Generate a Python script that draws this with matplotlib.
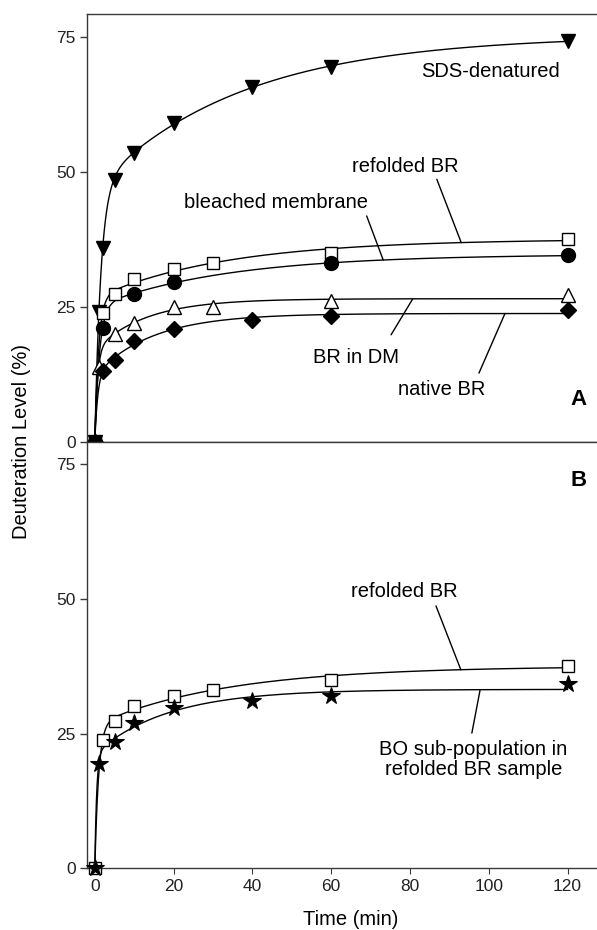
import numpy as np
import matplotlib
matplotlib.use("Agg")
import matplotlib.pyplot as plt

plt.rcParams['font.family'] = ['Liberation Sans', 'DejaVu Sans']

# ---------------- data ----------------
t_sds = [0, 1, 2, 5, 10, 20, 40, 60, 120]
v_sds = [0, 24.1, 35.8, 48.5, 53.5, 59.0, 65.7, 69.4, 74.2]

t_refolded = [0, 2, 5, 10, 20, 30, 60, 120]
v_refolded = [0, 23.8, 27.3, 30.1, 32.0, 33.1, 35.0, 37.6]

t_bleached = [0, 2, 10, 20, 60, 120]
v_bleached = [0, 21.1, 27.4, 29.6, 33.0, 34.5]

t_dm = [0, 1, 5, 10, 20, 30, 60, 120]
v_dm = [0, 13.8, 20.0, 22.0, 24.9, 24.9, 26.0, 27.1]

t_native = [0, 2, 5, 10, 20, 40, 60, 120]
v_native = [0, 13.0, 15.2, 18.6, 20.8, 22.5, 23.2, 24.4]

t_bo = [0, 1, 5, 10, 20, 40, 60, 120]
v_bo = [0, 19.4, 23.4, 27.0, 29.7, 31.0, 32.0, 34.2]

yticks = [0, 25, 50, 75]
xticks = [0, 20, 40, 60, 80, 100, 120]


# --------------- bi-exponential fit (grid search + linear LS) -------------
def fit_biexp(t, y):
    t = np.asarray(t, float)
    y = np.asarray(y, float)
    best = None
    for k1 in np.logspace(-1, 1.3, 60):
        for k2 in np.logspace(-3.3, -0.3, 60):
            if k2 >= k1:
                continue
            M = np.column_stack([1 - np.exp(-k1 * t), 1 - np.exp(-k2 * t)])
            coef, *_ = np.linalg.lstsq(M, y, rcond=None)
            if np.any(coef < 0):
                continue
            r = np.sum((M @ coef - y) ** 2)
            if best is None or r < best[0]:
                best = (r, k1, k2, coef)
    _, k1, k2, (a, b) = best
    return lambda tt: a * (1 - np.exp(-k1 * np.asarray(tt, float))) + \
        b * (1 - np.exp(-k2 * np.asarray(tt, float)))


W, H = 597, 930
fig = plt.figure(figsize=(W / 100, H / 100), dpi=100)

x0_px, xpx_per = 94.8, 3.94
xlim = (-2.0, 132.0)
left_px = x0_px + xlim[0] * xpx_per
width_px = (xlim[1] - xlim[0]) * xpx_per
ylim = (0, 79.2)

axA = fig.add_axes([left_px / W, (H - 441.7) / H, width_px / W, (441.7 - 14) / H])
axB = fig.add_axes([left_px / W, (H - 868.3) / H, width_px / W, (868.3 - 441.7) / H])

spine_col = '#3a3a3a'
for ax in (axA, axB):
    ax.set_xlim(*xlim)
    ax.set_ylim(*ylim)
    ax.set_yticks(yticks)
    ax.set_xticks(xticks)
    ax.spines['right'].set_visible(False)
    for s in ax.spines.values():
        s.set_color(spine_col)
        s.set_linewidth(1.0)
    ax.tick_params(axis='y', direction='out', length=5, width=1.0, color=spine_col,
                   labelsize=12.5, pad=3, labelcolor='#222222')
    ax.tick_params(axis='x', direction='out', length=4, width=0.8, color=spine_col,
                   labelsize=12.5, pad=4, labelcolor='#222222')

axA.tick_params(axis='x', labelbottom=False, length=2, width=0.5, color='#999999')

tt = np.linspace(0, 120, 1200)
lc = 'black'
lw = 1.0

series_A = [
    (t_sds, v_sds, 'v', 'black', 10.5),
    (t_refolded, v_refolded, 's', 'white', 9.0),
    (t_bleached, v_bleached, 'o', 'black', 10.0),
    (t_dm, v_dm, '^', 'white', 10.0),
    (t_native, v_native, 'D', 'black', 8.5),
]
fitsA = []
for t, v, m, fc, ms in series_A:
    f = fit_biexp(t, v)
    fitsA.append(f)
    axA.plot(tt, f(tt), color=lc, lw=lw, zorder=2)
for t, v, m, fc, ms in series_A:
    axA.plot(t, v, linestyle='none', marker=m, markersize=ms, markerfacecolor=fc,
             markeredgecolor='black', markeredgewidth=1.0, clip_on=False, zorder=3)

f_sds, f_ref, f_bl, f_dm, f_nat = fitsA

fs = 14.5


def leader(ax, f, x_text, y_text, x_curve):
    ax.annotate('', xy=(x_curve, float(f(x_curve))), xytext=(x_text, y_text),
                arrowprops=dict(arrowstyle='-', color='black', lw=1.0,
                                shrinkA=0, shrinkB=0))


axA.text(118.1, 67.5, 'SDS-denatured', ha='right', va='baseline', fontsize=fs)
axA.text(78.7, 50.0, 'refolded BR', ha='center', va='baseline', fontsize=fs)
leader(axA, f_ref, 86.8, 48.6, 93.0)
axA.text(46.0, 43.2, 'bleached membrane', ha='center', va='baseline', fontsize=fs)
leader(axA, f_bl, 69.0, 41.8, 73.2)
axA.text(66.2, 14.5, 'BR in DM', ha='center', va='baseline', fontsize=fs)
leader(axA, f_dm, 75.2, 19.8, 80.7)
axA.text(88.0, 8.65, 'native BR', ha='center', va='baseline', fontsize=fs)
leader(axA, f_nat, 97.5, 12.7, 104.1)
axA.text(122.7, 7.9, 'A', ha='center', va='center', fontsize=16, fontweight='bold')

# panel B
f_ref_b = fit_biexp(t_refolded, v_refolded)
f_bo = fit_biexp(t_bo, v_bo)
axB.plot(tt, f_ref_b(tt), color=lc, lw=lw, zorder=2)
axB.plot(tt, f_bo(tt), color=lc, lw=lw, zorder=2)
axB.plot(t_refolded, v_refolded, linestyle='none', marker='s', markersize=9.0,
         markerfacecolor='white', markeredgecolor='black', markeredgewidth=1.0,
         clip_on=False, zorder=3)
axB.plot(t_bo, v_bo, linestyle='none', marker='*', markersize=13,
         markerfacecolor='black', markeredgecolor='black', markeredgewidth=0.8,
         clip_on=False, zorder=4)

axB.text(78.6, 50.3, 'refolded BR', ha='center', va='baseline', fontsize=fs)
leader(axB, f_ref_b, 86.6, 48.7, 92.9)
axB.text(96.1, 20.2, 'BO sub-population in\nrefolded BR sample', ha='center',
         va='center', fontsize=fs, linespacing=1.1, multialignment='center')
leader(axB, f_bo, 95.7, 25.1, 97.8)
axB.text(122.7, 72.0, 'B', ha='center', va='center', fontsize=16, fontweight='bold')

axB.set_xlabel('Time (min)', fontsize=14.5, labelpad=11)
fig.text(22 / W, (H - 441.7) / H, 'Deuteration Level (%)', rotation=90,
         ha='center', va='center', fontsize=14.5)

fig.savefig('out.png', dpi=100)
